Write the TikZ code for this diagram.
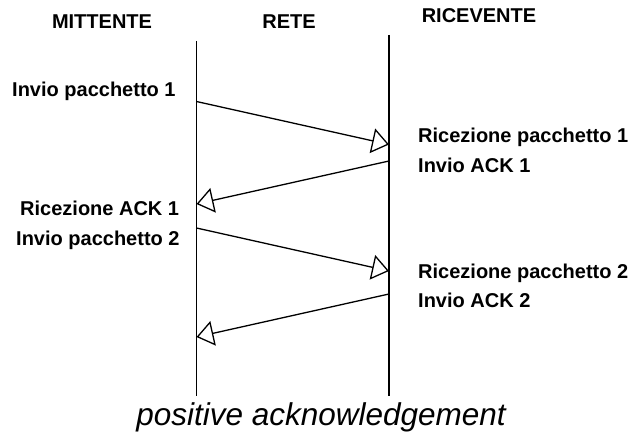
\documentclass[tikz,border=0pt]{standalone}
\usepackage{fontspec}
\setmainfont{Liberation Sans}
\usetikzlibrary{arrows.meta}
\begin{document}
\begin{tikzpicture}[x=1pt,y=-1pt,
  lifeline/.style={line width=1.3pt},
  msg/.style={line width=1.3pt,-{Triangle[open,length=17pt,width=25pt,line width=1.3pt]}},
  head/.style={inner sep=0pt,font=\fontsize{20}{24}\selectfont\bfseries},
  evt/.style={inner sep=0pt,anchor=base west,font=\fontsize{20}{24}\selectfont\bfseries},
  caption/.style={inner sep=0pt,anchor=base,font=\fontsize{31.5}{36}\selectfont\itshape}]
\useasboundingbox (0,0) rectangle (634,436);

% column headings
\node[head,anchor=base] (hsend) at (102,29) {MITTENTE};
\node[head,anchor=base] (hnet)  at (289,29) {RETE};
\node[head,anchor=base] (hrecv) at (479,23) {RICEVENTE};

% lifelines of sender and receiver
\coordinate (stop) at (196.5,41);
\coordinate (sbot) at (196.5,396);
\coordinate (rtop) at (389,35);
\coordinate (rbot) at (389,396);
\draw[lifeline] (stop) -- (sbot);
\draw[lifeline] (rtop) -- (rbot);

% message end points on the lifelines
\coordinate (s1) at (196.5,101.5);
\coordinate (r1) at (389,144.5);
\coordinate (r2) at (389,161);
\coordinate (s2) at (196.5,204);
\coordinate (s3) at (196.5,228);
\coordinate (r3) at (389,271);
\coordinate (r4) at (389,294);
\coordinate (s4) at (196.5,337);

\draw[msg] (s1) -- (r1);
\draw[msg] (r2) -- (s2);
\draw[msg] (s3) -- (r3);
\draw[msg] (r4) -- (s4);

% events at the sender
\node[evt] (e1) at (12,96.5)  {Invio pacchetto 1};
\node[evt] (e4) at (20,215)   {Ricezione ACK 1};
\node[evt] (e5) at (16,245)   {Invio pacchetto 2};

% events at the receiver
\node[evt] (e2) at (418,142)  {Ricezione pacchetto 1};
\node[evt] (e3) at (418,172)  {Invio ACK 1};
\node[evt] (e6) at (418,278)  {Ricezione pacchetto 2};
\node[evt] (e7) at (418,307)  {Invio ACK 2};

\node[caption] (cap) at (321,425) {positive acknowledgement};
\end{tikzpicture}
\end{document}
